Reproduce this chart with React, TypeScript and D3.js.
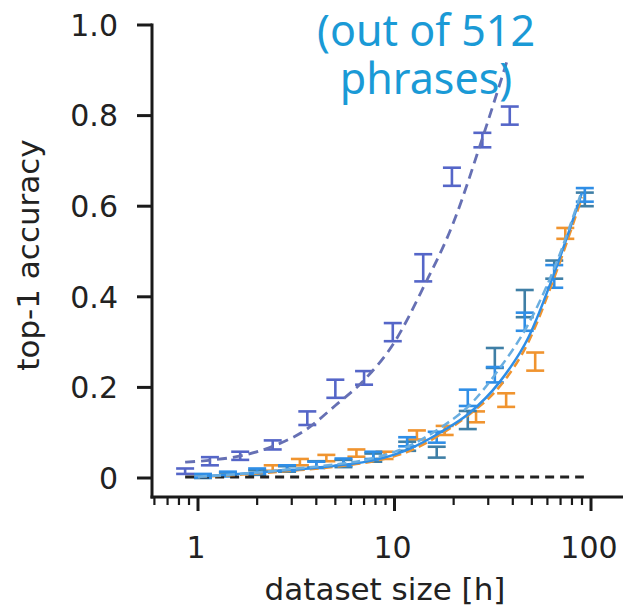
import React from 'react';
import * as d3 from 'd3';

// measured points (dataset size in hours, top-1 accuracy, error half-width)
const indigoX = [0.86, 1.15, 1.64, 2.4, 3.6, 5, 7, 9.8, 14, 19.6, 28, 38.6];
const indigoY = [0.015, 0.037, 0.049, 0.073, 0.132, 0.197, 0.221, 0.322, 0.464, 0.665, 0.746, 0.8];
const indigoErr = [0.006, 0.009, 0.009, 0.01, 0.015, 0.02, 0.015, 0.02, 0.03, 0.02, 0.016, 0.02];

const blueX = [1.06, 1.42, 2.0, 2.84, 4.0, 5.5, 7.8, 11.6, 16.4, 23.6, 32.4, 46, 65, 93];
const blueY = [0.005, 0.009, 0.015, 0.022, 0.029, 0.035, 0.05, 0.08, 0.09, 0.177, 0.228, 0.345, 0.445, 0.625];
const blueErr = [0.004, 0.005, 0.006, 0.006, 0.007, 0.008, 0.008, 0.01, 0.012, 0.018, 0.017, 0.02, 0.025, 0.015];

const tealX = [1.06, 1.42, 2.0, 2.84, 4.0, 5.5, 7.8, 11.6, 16.4, 23.6, 32.4, 46, 65, 93];
const tealY = [0.004, 0.008, 0.012, 0.02, 0.03, 0.032, 0.045, 0.07, 0.057, 0.128, 0.265, 0.385, 0.46, 0.615];
const tealErr = [0.004, 0.004, 0.005, 0.006, 0.007, 0.008, 0.009, 0.01, 0.012, 0.02, 0.022, 0.03, 0.02, 0.015];

const orangeX = [2.4, 3.3, 4.5, 6.4, 8.9, 13, 18, 26, 37, 52, 74];
const orangeY = [0.022, 0.035, 0.044, 0.055, 0.05, 0.095, 0.105, 0.135, 0.172, 0.257, 0.54];
const orangeErr = [0.006, 0.007, 0.007, 0.008, 0.008, 0.01, 0.01, 0.012, 0.015, 0.02, 0.012];

// fitted curves
const fitIndigoX = [0.86, 1.2, 1.7, 2.4, 3.5, 5, 7, 10, 14, 20, 28, 38];
const fitIndigoY = [0.035, 0.04, 0.05, 0.07, 0.105, 0.16, 0.216, 0.3, 0.42, 0.565, 0.75, 0.93];

const fitX = [1, 2, 3, 5, 8, 12, 17, 24, 34, 48, 66, 90];
const fitBlue = [0.003, 0.012, 0.018, 0.027, 0.04, 0.065, 0.1, 0.143, 0.21, 0.31, 0.46, 0.63];
const fitLight = [0.003, 0.012, 0.02, 0.03, 0.045, 0.072, 0.11, 0.16, 0.24, 0.34, 0.47, 0.635];
const fitOrange = [0.002, 0.01, 0.016, 0.025, 0.038, 0.06, 0.095, 0.14, 0.2, 0.3, 0.45, 0.62];

// chance level (1/512)
const chanceX = [0.86, 92];
const chanceY = [0.002, 0.002];

const xMajor = [1, 10, 100];
const xMinor = [0.6, 0.7, 0.8, 0.9, 2, 3, 4, 5, 6, 7, 8, 9, 20, 30, 40, 50, 60, 70, 80, 90];
const yTicks = [0, 0.2, 0.4, 0.6, 0.8, 1.0];
const yTickLabels = ['0', '0.2', '0.4', '0.6', '0.8', '1.0'];
const noteLines = ['(out of 512', 'phrases)'];

const W = 623;
const H = 613;
const axisY = 497;
const axisX = 152;

const x = d3.scaleLog().domain([1, 100]).range([198, 591]);
const y = d3.scaleLinear().domain([0, 1]).range([478, 25]);

const tickFont = 'DejaVu Sans, sans-serif';
const ink = '#1a1a1a';

const ErrorBars = ({ xs, ys, es, color }) => (
  <g stroke={color} strokeWidth={2.6} fill="none">
    {xs.map((xv, i) => {
      const cx = x(xv);
      const top = y(ys[i] + es[i]);
      const bot = y(ys[i] - es[i]);
      return (
        <g key={i}>
          <line x1={cx} x2={cx} y1={top} y2={bot} />
          <line x1={cx - 9} x2={cx + 9} y1={top} y2={top} />
          <line x1={cx - 9} x2={cx + 9} y1={bot} y2={bot} />
        </g>
      );
    })}
  </g>
);

const curve = (xs, ys) =>
  d3
    .line()
    .x((d) => x(d[0]))
    .y((d) => y(d[1]))
    .curve(d3.curveMonotoneX)(xs.map((v, i) => [v, ys[i]]));

export default function App() {
  return (
    <svg
      width={W}
      height={H}
      style={{ position: 'absolute', left: 0, top: 0, background: '#fff' }}
    >
      {/* error bars */}
      <ErrorBars xs={orangeX} ys={orangeY} es={orangeErr} color="#f0942f" />
      <ErrorBars xs={tealX} ys={tealY} es={tealErr} color="#3f7fa6" />
      <ErrorBars xs={blueX} ys={blueY} es={blueErr} color="#2f8ee6" />
      <ErrorBars xs={indigoX} ys={indigoY} es={indigoErr} color="#5566c8" />

      {/* fits */}
      <path d={curve(chanceX, chanceY)} fill="none" stroke="#222" strokeWidth={3} strokeDasharray="9 6" />
      <path d={curve(fitX, fitOrange)} fill="none" stroke="#f0942f" strokeWidth={2.5} strokeDasharray="9 5" />
      <path d={curve(fitX, fitBlue)} fill="none" stroke="#2f8ee6" strokeWidth={2.5} />
      <path d={curve(fitX, fitLight)} fill="none" stroke="#6aaee0" strokeWidth={2.5} strokeDasharray="9 5" />
      <path d={curve(fitIndigoX, fitIndigoY)} fill="none" stroke="#6670b4" strokeWidth={2.8} strokeDasharray="10 6" />

      {/* annotation */}
      <text fontFamily="Noto Sans, sans-serif" fontSize={43} fill="#1a9ad6" textAnchor="middle">
        <tspan x={426} y={46}>{noteLines[0]}</tspan>
        <tspan x={426} y={94}>{noteLines[1]}</tspan>
      </text>

      {/* y axis */}
      <line x1={axisX} x2={axisX} y1={y(1) - 1.5} y2={axisY + 1.5} stroke={ink} strokeWidth={3} />
      {yTicks.map((t, i) => (
        <g key={t}>
          <line x1={axisX - 15} x2={axisX} y1={y(t)} y2={y(t)} stroke={ink} strokeWidth={3} />
          <text
            x={118}
            y={y(t)}
            dy="0.36em"
            textAnchor="end"
            fontFamily={tickFont}
            fontSize={30}
            fill="#222"
          >
            {yTickLabels[i]}
          </text>
        </g>
      ))}

      {/* x axis */}
      <line x1={axisX - 1.5} x2={W} y1={axisY} y2={axisY} stroke={ink} strokeWidth={3} />
      {xMinor.map((t) => (
        <line key={t} x1={x(t)} x2={x(t)} y1={axisY} y2={axisY + 8} stroke={ink} strokeWidth={2.2} />
      ))}
      {xMajor.map((t) => (
        <g key={t}>
          <line x1={x(t)} x2={x(t)} y1={axisY} y2={axisY + 14} stroke={ink} strokeWidth={3} />
          <text
            x={x(t) - 2}
            y={558}
            textAnchor="middle"
            fontFamily={tickFont}
            fontSize={30}
            fill="#222"
          >
            {t}
          </text>
        </g>
      ))}

      {/* axis labels */}
      <text x={385} y={600} textAnchor="middle" fontFamily={tickFont} fontSize={31} fill="#222">
        dataset size [h]
      </text>
      <text
        transform="translate(39,255) rotate(-90)"
        textAnchor="middle"
        fontFamily={tickFont}
        fontSize={31}
        fill="#222"
      >
        top-1 accuracy
      </text>
    </svg>
  );
}
